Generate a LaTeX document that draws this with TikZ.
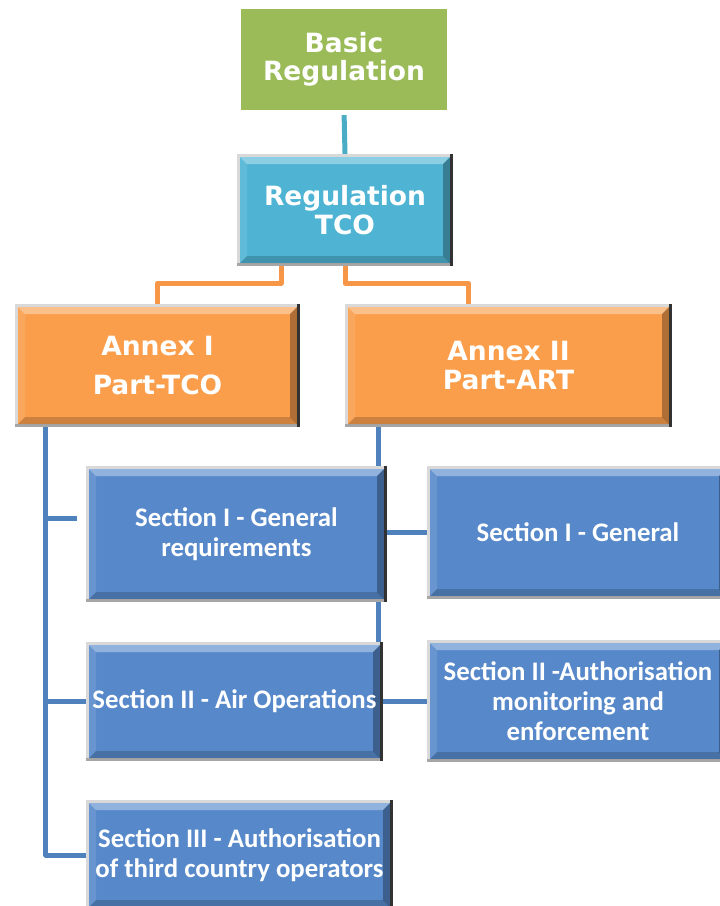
\documentclass[tikz,border=0pt]{standalone}
\usepackage{fontspec}
\newfontfamily\verd{DejaVu Sans}
\newfontfamily\carl{Carlito}
\usetikzlibrary{backgrounds}
\definecolor{cgreen}{HTML}{9BBB59}
\definecolor{ccyan}{HTML}{4FB4D4}
\definecolor{corange}{HTML}{FA9E4C}
\definecolor{cblue}{HTML}{5789CA}
\definecolor{lcyan}{HTML}{4BACC6}
\definecolor{lorange}{HTML}{F79646}
\definecolor{lblue}{HTML}{4F81BD}
\tikzset{
 bev/.style={rectangle, inner sep=0pt, fill=black!15, text=white, align=center,
  path picture={
   \coordinate (q1) at (path picture bounding box.north west);
   \coordinate (q2) at (path picture bounding box.north east);
   \coordinate (q3) at (path picture bounding box.south east);
   \coordinate (q4) at (path picture bounding box.south west);
   \fill[black!35] ([yshift=3pt]q4) rectangle (q3);
   \fill[black!80] ([xshift=-3pt]q2) rectangle (q3);
   \coordinate (i1) at ([shift={(3pt,-3pt)}]q1);
   \coordinate (i2) at ([shift={(-3pt,-3pt)}]q2);
   \coordinate (i3) at ([shift={(-3pt,3pt)}]q3);
   \coordinate (i4) at ([shift={(3pt,3pt)}]q4);
   \fill[#1] (i1) rectangle (i3);
   \fill[white,opacity=.35] (i1) -- (i2) -- ([shift={(-7pt,-7pt)}]i2) -- ([shift={(7pt,-7pt)}]i1) -- cycle;
   \fill[white,opacity=.10] (i1) -- ([shift={(7pt,-7pt)}]i1) -- ([shift={(7pt,7pt)}]i4) -- (i4) -- cycle;
   \fill[black,opacity=.30] (i2) -- (i3) -- ([shift={(-7pt,7pt)}]i3) -- ([shift={(-7pt,-7pt)}]i2) -- cycle;
   \fill[black,opacity=.18] (i4) -- (i3) -- ([shift={(-7pt,7pt)}]i3) -- ([shift={(7pt,7pt)}]i4) -- cycle;
  }},
 topfont/.style={font=\verd\bfseries\fontsize{26.5}{28.5}\selectfont},
 secfont/.style={font=\carl\bfseries\fontsize{26.8}{30}\selectfont},
 conn/.style={line width=5pt, line join=round}
}
\begin{document}
\begin{tikzpicture}[x=1pt,y=-1pt]
\path[use as bounding box, clip] (0,0) rectangle (720,906);
\node[fill=cgreen, minimum width=206pt, minimum height=101pt, inner sep=0pt, text=white, align=center, topfont] (basic) at (344,59.5) {Basic\\Regulation};
\node[bev=ccyan, minimum width=216pt, minimum height=112pt, topfont] (tco) at (345,210) {Regulation\\TCO};
\node[bev=corange, minimum width=285pt, minimum height=123pt, topfont] (an1) at (157.5,365.5) {Annex I\\[11pt]Part-TCO};
\node[bev=corange, minimum width=327pt, minimum height=123pt, topfont] (an2) at (508.5,365.5) {Annex II\\Part-ART};
\node[bev=cblue, minimum width=301pt, minimum height=136pt, secfont] (s1l) at (236.5,534) {Section I - General\\requirements};
\node[bev=cblue, minimum width=302pt, minimum height=133pt, secfont] (s1r) at (578,532.5) {Section I - General};
\node[bev=cblue, minimum width=297pt, minimum height=119pt, secfont] (s2l) at (234.5,701.5) {Section II - Air Operations};
\node[bev=cblue, minimum width=302pt, minimum height=122pt, secfont] (s2r) at (578,701) {Section II -Authorisation\\monitoring and\\enforcement};
\node[bev=cblue, minimum width=307pt, minimum height=110pt, secfont] (s3) at (239.5,855) {Section III - Authorisation\\of third country operators};
\begin{scope}[on background layer]
\draw[conn, lcyan, shorten <=5pt] (basic.south) -- (tco.north);
\draw[conn, lorange] ([xshift=-64pt]tco.south) -- ++(0,17) -| (an1.north);
\draw[conn, lorange] (tco.south) -- ++(0,17) -| ([xshift=-40pt]an2.north);
\coordinate (tl) at ([xshift=31pt]an1.south west);
\coordinate (tr) at ([xshift=34pt]an2.south west);
\coordinate (b1) at ([xshift=-9pt,yshift=16pt]s1l.west);
\draw[conn, lblue] (tl) |- (s3.west);
\draw[conn, lblue] (tl |- s2l.west) -- (s2l.west);
\draw[conn, lblue] (tl |- b1) -- (b1);
\draw[conn, lblue] (tr) |- (s2r.west);
\draw[conn, lblue] (tr |- s1r.west) -- (s1r.west);
\end{scope}
\end{tikzpicture}
\end{document}
